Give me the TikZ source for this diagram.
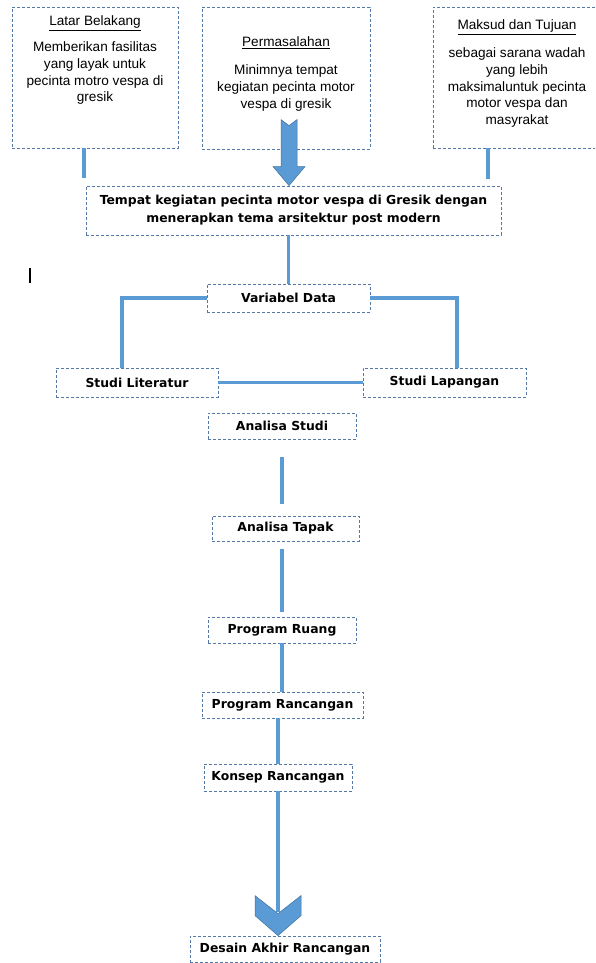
\documentclass[tikz,border=0pt]{standalone}
\usepackage{fontspec}
\setmainfont{Liberation Sans}
\newfontfamily\tahoma{DejaVu Sans}
\definecolor{boxline}{RGB}{84,121,166}
\definecolor{flow}{RGB}{91,155,213}
\definecolor{flowedge}{RGB}{65,113,156}
\tikzset{
  box/.style={draw=boxline, dash pattern=on 3pt off 2pt, line width=0.8pt, inner sep=0pt},
  stage/.style={box, font=\tahoma\bfseries\fontsize{12.4}{18}\selectfont, align=center},
  body/.style={font=\fontsize{13.6}{16.7}\selectfont, align=center, inner sep=0pt, anchor=north},
  head/.style={font=\fontsize{13.6}{16.7}\selectfont, inner sep=0pt, anchor=base},
  conn/.style={flow, line width=3.6pt},
  bigarrow/.style={fill=flow, draw=flowedge, line width=0.5pt}
}
\begin{document}
\begin{tikzpicture}[x=1pt, y=-1pt]
    \clip (0,0) rectangle (595,963);

    % top boxes
    \node[box, minimum width=166pt, minimum height=141pt] (latar) at (95,77.5) {};
    \node[head] (latarhead) at (95,25.5) {\underline{Latar Belakang}};
    \node[body] (latarbody) at (95,39.8) {\strut Memberikan fasilitas\\yang layak untuk\\pecinta motro vespa di\\gresik};

    \node[box, minimum width=168pt, minimum height=142pt] (perm) at (286,78) {};
    \node[head] (permhead) at (286,46.5) {\underline{Permasalahan}};
    \node[body] (permbody) at (286,62.8) {\strut Minimnya tempat\\kegiatan pecinta motor\\vespa di gresik};

    \node[box, minimum width=168pt, minimum height=141pt] (maksud) at (517,77.5) {};
    \node[head] (maksudhead) at (517,29.5) {\underline{Maksud dan Tujuan}};
    \node[body] (maksudbody) at (517,45.8) {\strut sebagai sarana wadah\\yang lebih\\maksimaluntuk pecinta\\motor vespa dan\\masyrakat};

    % main flow
    \node[stage, minimum width=415pt, minimum height=49pt] (tempat) at (293.5,210.5)
        {Tempat kegiatan pecinta motor vespa di Gresik dengan\\menerapkan tema arsitektur post modern};
    \node[stage, minimum width=163pt, minimum height=28pt] (variabel) at (288.5,298) {Variabel Data};
    \node[stage, minimum width=162pt, minimum height=29pt] (lit) at (137,382.5) {Studi Literatur};
    \node[stage, minimum width=163pt, minimum height=29pt] (lap) at (444.5,382.5) {Studi Lapangan};
    \node[stage, minimum width=148pt, minimum height=26pt] (studi) at (282,426) {Analisa Studi};
    \node[stage, minimum width=147pt, minimum height=25pt] (tapak) at (285.5,528.5) {Analisa Tapak};
    \node[stage, minimum width=148pt, minimum height=26pt] (ruang) at (282,630) {Program Ruang};
    \node[stage, minimum width=161pt, minimum height=26pt] (rancangan) at (282.5,705) {Program Rancangan};
    \node[stage, minimum width=148pt, minimum height=27pt] (konsep) at (278,777.5) {Konsep Rancangan};
    \node[stage, minimum width=190pt, minimum height=26pt] (desain) at (285,949) {Desain Akhir Rancangan};

    \draw[line width=1.2pt] (30,268) -- (30,283);

    % connectors
    \draw[conn] ([xshift=-11pt]latar.south) -- ++(0,30);
    \draw[conn] ([xshift=-29pt]maksud.south) -- ++(0,31);
    \draw[conn] (variabel.north |- tempat.south) -- (variabel.north);
    \draw[conn] (variabel.west) -| ([xshift=-15pt]lit.north);
    \draw[conn] (variabel.east) -| ([xshift=12.5pt]lap.north);
    \draw[conn] (lit.east) -- (lap.west);
    \draw[conn] ([yshift=-18pt]studi.south) -- ++(0,47);
    \draw[conn] ([yshift=5pt]ruang.north) -- ++(0,-63);
    \draw[conn] (ruang.south) -- (ruang.south |- rancangan.north);
    \draw[conn] (konsep.north |- rancangan.south) -- (konsep.north);
    \draw[conn] (konsep.south) -- ++(0,121);

    % block arrows
    \coordinate (ptip) at ([xshift=3pt]perm.south |- tempat.north);
    \draw[bigarrow] (ptip) -- ++(-16,-19) -- ++(8,0) -- ++(0,-47) -- ++(8,6)
        -- ++(8,-6) -- ++(0,47) -- ++(8,0) -- cycle;
    \coordinate (dtip) at (konsep.south |- desain.north);
    \draw[bigarrow] (dtip) -- ++(-23,-20) -- ++(0,-20) -- ++(23,18) -- ++(23,-18)
        -- ++(0,20) -- cycle;
\end{tikzpicture}
\end{document}
